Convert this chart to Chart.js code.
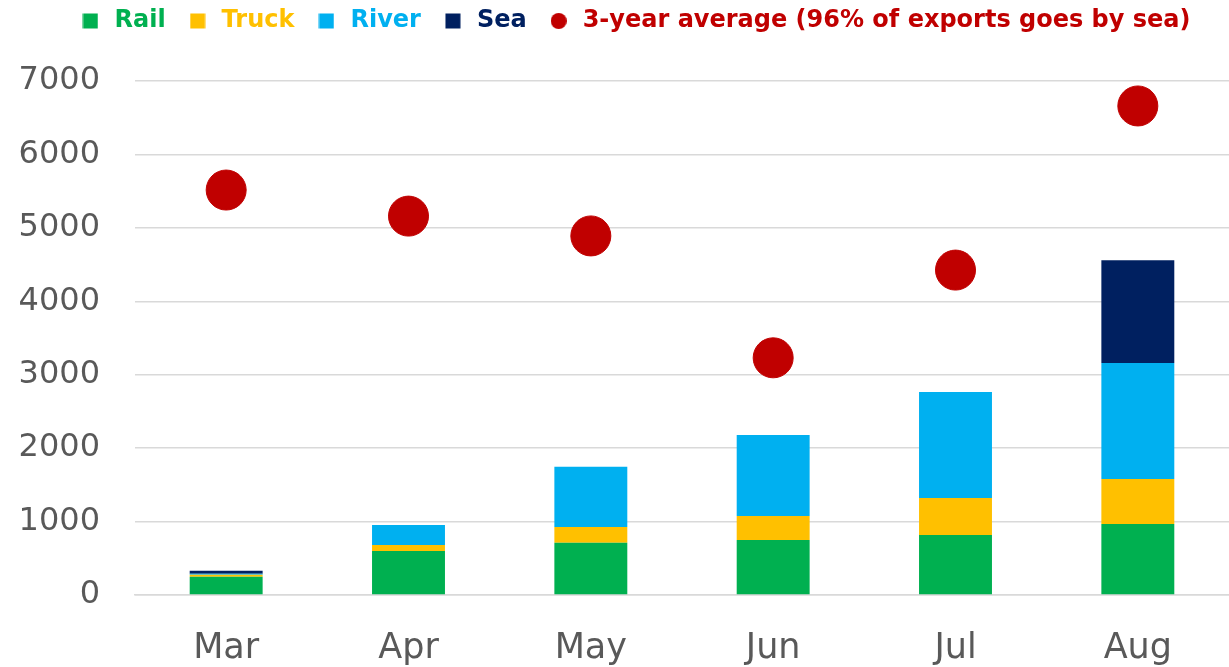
<!DOCTYPE html>
<html>
<head>
<meta charset="utf-8">
<script src="https://cdn.jsdelivr.net/npm/chart.js@4"></script>
<style>
  html, body { margin: 0; padding: 0; background: #fff; }
  #wrap { width: 1229px; height: 667px; }
</style>
</head>
<body>
<div id="wrap"><canvas id="chart"></canvas></div>
<script>
const months = ['Mar', 'Apr', 'May', 'Jun', 'Jul', 'Aug'];
const rail  = [250, 600, 710, 750, 817, 967];
const truck = [25, 80, 215, 325, 503, 613];
const river = [15, 273, 820, 1105, 1445, 1580];
const sea   = [40, 0, 0, 0, 0, 1400];
const avg3y = [5515, 5160, 4890, 3230, 4425, 6660];
const yTicks = [0, 1000, 2000, 3000, 4000, 5000, 6000, 7000];

const colors = {
    rail: '#00B050',
    truck: '#FFC000',
    river: '#00B0F0',
    sea: '#002060',
    avg: '#C00000',
    grid: '#D9D9D9',
    text: '#595959'
};

const font = "'DejaVu Sans', sans-serif";

// small canvases used as legend markers (square for bars, dot for the average)
function marker(color, round) {
    const c = document.createElement('canvas');
    c.width = 16;
    c.height = 16;
    const g = c.getContext('2d');
    g.fillStyle = color;
    if (round) {
        g.beginPath();
        g.arc(8, 8, 8, 0, Math.PI * 2);
        g.fill();
    } else {
        g.fillRect(0.5, 0.5, 15, 15);
    }
    return c;
}

// legend sits a bit right of centre and leaves a gap above the plot
const legendTweak = {
    id: 'legendTweak',
    beforeInit(chart) {
        const origFit = chart.legend.fit;
        chart.legend.fit = function () {
            origFit.bind(chart.legend)();
            this.height = 81;
        };
    },
    afterLayout(chart) {
        chart.legend.left += 20;
        chart.legend.right += 20;
        chart.legend.top -= 11;
    }
};

new Chart(document.getElementById('chart'), {
    type: 'bar',
    data: {
        labels: months,
        datasets: [
            { label: 'Rail', data: rail, backgroundColor: colors.rail, stack: 'x' },
            { label: 'Truck', data: truck, backgroundColor: colors.truck, stack: 'x' },
            { label: 'River', data: river, backgroundColor: colors.river, stack: 'x' },
            { label: 'Sea', data: sea, backgroundColor: colors.sea, stack: 'x' },
            {
                type: 'line',
                label: '3-year average (96% of exports goes by sea)',
                data: avg3y,
                stack: 'avg',
                showLine: false,
                pointRadius: 20,
                pointHoverRadius: 20,
                pointBackgroundColor: colors.avg,
                pointBorderColor: colors.avg,
                borderColor: colors.avg,
                backgroundColor: colors.avg
            }
        ]
    },
    options: {
        responsive: true,
        maintainAspectRatio: false,
        animation: false,
        layout: { autoPadding: false, padding: 0 },
        datasets: { bar: { barPercentage: 0.4, categoryPercentage: 1 } },
        scales: {
            x: {
                stacked: true,
                grid: { display: false },
                border: { color: colors.grid, width: 1.5 },
                ticks: { color: colors.text, font: { family: font, size: 35 }, padding: 25 },
                afterFit(scale) {
                    scale.paddingLeft = 0;
                    scale.paddingRight = 0;
                    scale.height = 72;
                }
            },
            y: {
                stacked: true,
                min: 0,
                max: 7000,
                afterBuildTicks(scale) { scale.ticks = yTicks.map(v => ({ value: v })); },
                afterFit(scale) { scale.width = 135; },
                grid: { color: colors.grid, lineWidth: 1.5, drawTicks: false },
                border: { display: false },
                ticks: {
                    color: colors.text,
                    font: { family: font, size: 32 },
                    padding: 35,
                    callback: v => String(v)
                }
            }
        },
        plugins: {
            tooltip: { enabled: false },
            legend: {
                position: 'top',
                labels: {
                    usePointStyle: true,
                    boxHeight: 16,
                    padding: 20,
                    font: { family: font, size: 24, weight: 'bold' },
                    generateLabels(chart) {
                        return chart.data.datasets.map((ds, i) => ({
                            text: ds.label,
                            fillStyle: ds.backgroundColor,
                            strokeStyle: ds.backgroundColor,
                            fontColor: ds.backgroundColor,
                            lineWidth: 0,
                            pointStyle: marker(ds.backgroundColor, ds.type === 'line'),
                            datasetIndex: i,
                            hidden: false
                        }));
                    }
                }
            }
        }
    },
    plugins: [legendTweak]
});
</script>
</body>
</html>
